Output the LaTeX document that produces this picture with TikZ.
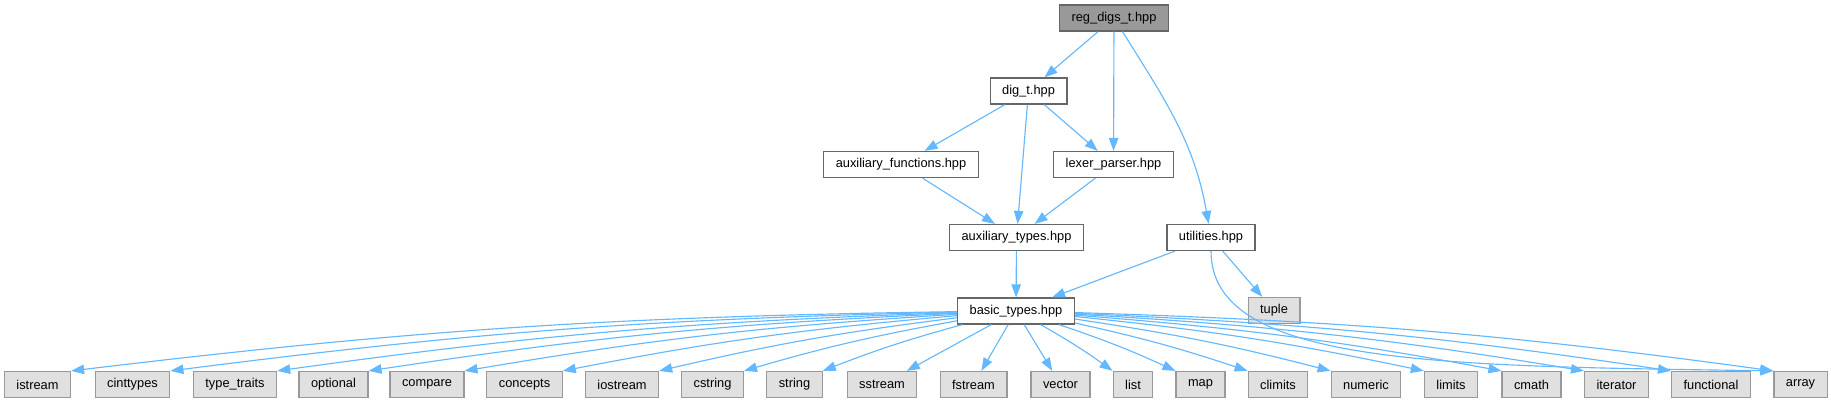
\documentclass[tikz,border=0pt]{standalone}
\usepackage{fontspec}
\setmainfont{Liberation Sans}
\usetikzlibrary{arrows.meta}
\definecolor{incblue}{HTML}{63B8FF}
\tikzset{
  hdr/.style={rectangle, draw=black!60, line width=0.7pt, fill=white, inner xsep=0.24cm,
    inner ysep=0pt, minimum height=0.52cm, font=\fontsize{7.3}{9}\selectfont},
  roothdr/.style={hdr, fill=black!40, draw=black!60},
  syshdr/.style={hdr, fill=black!12, draw=black!40},
  inc/.style={-{Triangle[length=2.6mm, width=1.9mm]}, line width=0.65pt, draw=incblue},
}
\begin{document}
\begin{tikzpicture}[x=0.02cm, y=-0.02cm]
  \useasboundingbox (0,0) rectangle (1831,403);
  % project headers
  \node[roothdr] (reg) at (1114,18) {reg\_digs\_t.hpp};
  \node[hdr] (dig) at (1028.5,91) {dig\_t.hpp};
  \node[hdr] (auxf) at (901,164.5) {auxiliary\_functions.hpp};
  \node[hdr] (lex) at (1113.5,164.5) {lexer\_parser.hpp};
  \node[hdr] (auxt) at (1016.5,237.5) {auxiliary\_types.hpp};
  \node[hdr] (util) at (1211,237.5) {utilities.hpp};
  \node[hdr] (basic) at (1016,311) {basic\_types.hpp};
  \node[syshdr] (tup) at (1274,310.5) {tuple};
  % standard headers
  \foreach \i/\x/\lab in {1/37.5/istream, 2/132.5/cinttypes, 3/235/type\_traits, 4/333.5/optional,
    5/427/compare, 6/524.5/concepts, 7/622/iostream, 8/712.5/cstring, 9/794.5/string,
    10/882/sstream, 11/973.5/fstream, 12/1060.5/vector, 13/1133/list, 14/1200.5/map,
    15/1278/climits, 16/1366/numeric, 17/1451/limits, 18/1531.5/cmath, 19/1616.5/iterator,
    20/1711/functional, 21/1800.5/array}
    \node[syshdr] (s\i) at (\x,384.5) {\lab};
  % includes
  \draw[inc] (reg) -- (dig);
  \draw[inc] (reg) -- (lex);
  \draw[inc] (reg) to[out=-58, in=100] (util);
  \draw[inc] (dig) -- (auxf);
  \draw[inc] (dig) -- (auxt);
  \draw[inc] (dig) -- (lex);
  \draw[inc] (auxf) -- (auxt);
  \draw[inc] (lex) -- (auxt);
  \draw[inc] (auxt) -- (basic);
  \draw[inc] (util) -- (basic);
  \draw[inc] (util) -- (tup);
  \draw[inc] (util.south) .. controls +(0,115) and +(-330,-5) .. (s21.north west);
  \foreach \i in {1,...,9}
    \draw[inc] (basic) to[bend right=3] (s\i.north east);
  \foreach \i in {10,11,12}
    \draw[inc] (basic) -- (s\i);
  \foreach \i in {13,...,21}
    \draw[inc] (basic) to[bend left=3] (s\i.north west);
\end{tikzpicture}
\end{document}
